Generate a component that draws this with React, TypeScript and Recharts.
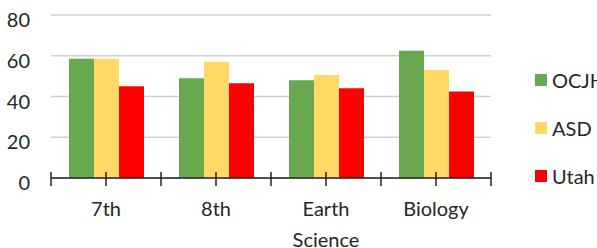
import React from 'react';
import { BarChart, Bar, XAxis, YAxis, CartesianGrid, Legend } from 'recharts';

const categories = ['7th', '8th', 'Earth Science', 'Biology'];
const ocjh = [58.5, 49, 48, 62.5];
const asd = [58.5, 57, 50.5, 53];
const utah = [45, 46.5, 44, 42.5];
const yTicks = [0, 20, 40, 60, 80];

const seriesNames = ['OCJH', 'ASD', 'Utah'];
const seriesColors = ['#6aa84f', '#ffd966', '#ff0000'];

const data = categories.map((c, i) => ({ name: c, OCJH: ocjh[i], ASD: asd[i], Utah: utah[i] }));

const FONT = 'Lato, "DejaVu Sans", sans-serif';
const TEXT = '#262626';
const AXIS = '#222';

const YTick = (props: any) => {
  const { x, y, payload } = props;
  return (
    <text x={x} y={y + 5} dy="0.355em" textAnchor="end" fontFamily={FONT} fontSize={20} fill={TEXT}>
      {payload.value}
    </text>
  );
};

const XTick = (props: any) => {
  const { x, y, payload, index } = props;
  const half = payload.offset || 0;
  const lines = String(payload.value).split(' ');
  const marks = [x - half, x];
  if (index === categories.length - 1) marks.push(x + half);
  return (
    <g>
      {marks.map((mx, i) => (
        <line key={i} x1={mx} x2={mx} y1={y - 6} y2={y + 8} stroke={AXIS} strokeWidth={1.5} />
      ))}
      <text x={x} y={y + 24} textAnchor="middle" fontFamily={FONT} fontSize={20} fill={TEXT}>
        {lines.map((l, i) => (
          <tspan key={i} x={x} dy={i === 0 ? '0.72em' : 31}>
            {l}
          </tspan>
        ))}
      </text>
    </g>
  );
};

const LegendContent = () => (
  <div style={{ fontFamily: FONT, fontSize: 20, color: TEXT }}>
    {seriesNames.map((n, i) => (
      <div key={n} style={{ height: 48, display: 'flex', alignItems: 'center', whiteSpace: 'nowrap' }}>
        <span style={{ width: 12, height: 12, background: seriesColors[i], display: 'inline-block', marginRight: 5 }} />
        <span>{n}</span>
      </div>
    ))}
  </div>
);

export default function App() {
  return (
    <div style={{ position: 'fixed', left: 0, top: 0, width: 597, height: 248, overflow: 'hidden', background: '#fff' }}>
      <BarChart
        width={597}
        height={248}
        data={data}
        margin={{ top: 15, right: 106, bottom: 0, left: 0 }}
        barCategoryGap={18}
        barGap={0}
      >
        <CartesianGrid vertical={false} stroke="#cfcfcf" strokeWidth={1.5} />
        <XAxis
          dataKey="name"
          height={70}
          tickSize={0}
          tickMargin={0}
          tick={<XTick />}
          tickLine={false}
          axisLine={{ stroke: AXIS, strokeWidth: 1.5 }}
          interval={0}
        />
        <YAxis
          width={51}
          domain={[0, 80]}
          ticks={yTicks}
          tickSize={0}
          tickMargin={21}
          tick={<YTick />}
          tickLine={false}
          axisLine={false}
        />
        <Legend
          layout="vertical"
          align="center"
          verticalAlign="middle"
          content={<LegendContent />}
          wrapperStyle={{ left: 535, top: 56, width: 70 }}
        />
        {seriesNames.map((n, i) => (
          <Bar key={n} dataKey={n} fill={seriesColors[i]} isAnimationActive={false} />
        ))}
      </BarChart>
    </div>
  );
}
